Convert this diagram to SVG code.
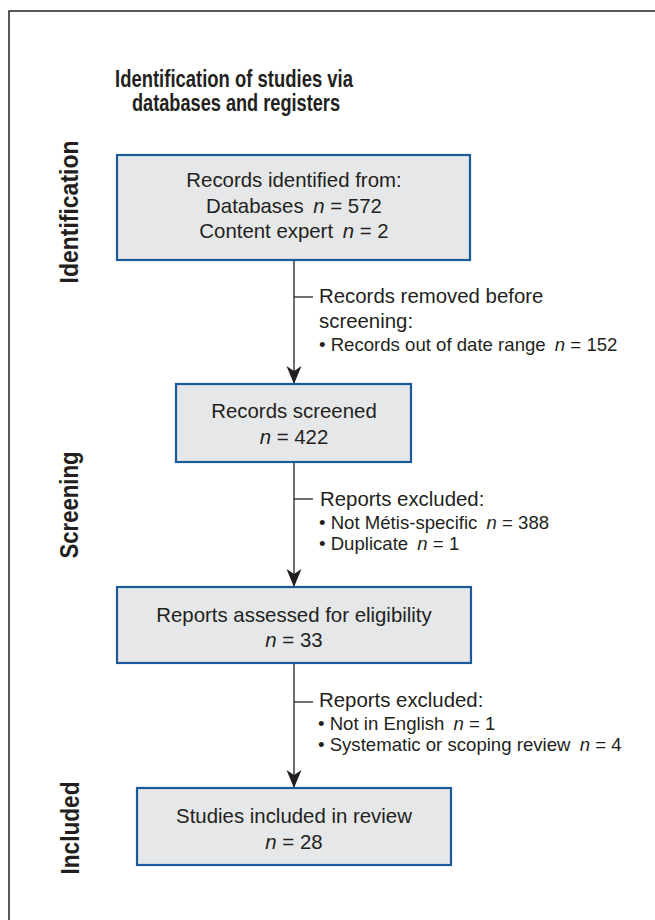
<svg xmlns="http://www.w3.org/2000/svg" width="655" height="920" viewBox="0 0 655 920">
  <style>
    .box { fill: #e6e7e8; stroke: #1b5a9a; stroke-width: 2.2; }
    .txt { font-family: "Liberation Sans", Arial, sans-serif; font-size: 20.4px; fill: #231f20; }
    .mid { text-anchor: middle; }
    .bul { font-family: "Liberation Sans", Arial, sans-serif; font-size: 18.6px; fill: #231f20; }
    .it { font-style: italic; }
    .hd { font-family: "Liberation Sans", Arial, sans-serif; font-weight: bold; font-size: 23.5px; fill: #231f20; text-anchor: middle; }
    .side { font-family: "Liberation Sans", Arial, sans-serif; font-weight: bold; font-size: 25.5px; fill: #231f20; text-anchor: middle; }
    .conn { stroke: #231f20; stroke-width: 1.3; fill: none; }
  </style>
  <defs>
    <marker id="arr" markerUnits="userSpaceOnUse" markerWidth="20" markerHeight="16" refX="18" refY="7.5" orient="auto" viewBox="0 0 20 16">
      <path d="M0,0 L18,7.5 L0,15 L5,7.5 Z" fill="#231f20"/>
    </marker>
  </defs>
  <rect width="655" height="920" fill="#ffffff"/>
  <rect id="frame" x="9" y="11" width="700" height="1000" fill="none" stroke="#231f20" stroke-width="1.5"/>

  <g id="title">
    <text class="hd" x="234" y="87" textLength="238" lengthAdjust="spacingAndGlyphs">Identification of studies via</text>
    <text class="hd" x="236" y="110.5" textLength="208" lengthAdjust="spacingAndGlyphs">databases and registers</text>
  </g>

  <g id="phase-labels">
    <text class="side" transform="translate(78,212) rotate(-90)" textLength="143" lengthAdjust="spacingAndGlyphs">Identification</text>
    <text class="side" transform="translate(78,505) rotate(-90)" textLength="107" lengthAdjust="spacingAndGlyphs">Screening</text>
    <text class="side" transform="translate(79,828) rotate(-90)" textLength="93" lengthAdjust="spacingAndGlyphs">Included</text>
  </g>

  <g id="connectors">
    <path class="conn" d="M294,260 V384" marker-end="url(#arr)"/>
    <path class="conn" d="M294,297 H313"/>
    <path class="conn" d="M294,462 V587" marker-end="url(#arr)"/>
    <path class="conn" d="M294,499 H313"/>
    <path class="conn" d="M294,663 V788" marker-end="url(#arr)"/>
    <path class="conn" d="M294,702 H313"/>
  </g>

  <g id="node-identified">
    <rect class="box" x="117" y="155" width="353" height="105"/>
    <text class="txt mid" x="294" y="187">Records identified from:</text>
    <text class="txt mid" x="294" y="212.5">Databases <tspan class="it" dx="4">n</tspan> = 572</text>
    <text class="txt mid" x="294" y="237.5">Content expert <tspan class="it" dx="4">n</tspan> = 2</text>
  </g>

  <g id="note-removed">
    <text class="txt" x="319" y="303">Records removed before</text>
    <text class="txt" x="319" y="328">screening:</text>
    <text class="bul" x="319" y="351">• Records out of date range <tspan class="it" dx="4">n</tspan> = 152</text>
  </g>

  <g id="node-screened">
    <rect class="box" x="176" y="384" width="235" height="78"/>
    <text class="txt mid" x="294" y="418">Records screened</text>
    <text class="txt mid" x="294" y="444"><tspan class="it">n</tspan> = 422</text>
  </g>

  <g id="note-excluded-1">
    <text class="txt" x="320" y="506">Reports excluded:</text>
    <text class="bul" x="319" y="528.5">• Not Métis-specific <tspan class="it" dx="4">n</tspan> = 388</text>
    <text class="bul" x="319" y="550">• Duplicate <tspan class="it" dx="4">n</tspan> = 1</text>
  </g>

  <g id="node-assessed">
    <rect class="box" x="117" y="587" width="354" height="76"/>
    <text class="txt mid" x="294" y="622">Reports assessed for eligibility</text>
    <text class="txt mid" x="294" y="647"><tspan class="it">n</tspan> = 33</text>
  </g>

  <g id="note-excluded-2">
    <text class="txt" x="319" y="707">Reports excluded:</text>
    <text class="bul" x="318" y="729.5">• Not in English <tspan class="it" dx="4">n</tspan> = 1</text>
    <text class="bul" x="318" y="751">• Systematic or scoping review <tspan class="it" dx="4">n</tspan> = 4</text>
  </g>

  <g id="node-included">
    <rect class="box" x="137" y="788" width="314" height="77"/>
    <text class="txt mid" x="294" y="823">Studies included in review</text>
    <text class="txt mid" x="294" y="849"><tspan class="it">n</tspan> = 28</text>
  </g>
</svg>
